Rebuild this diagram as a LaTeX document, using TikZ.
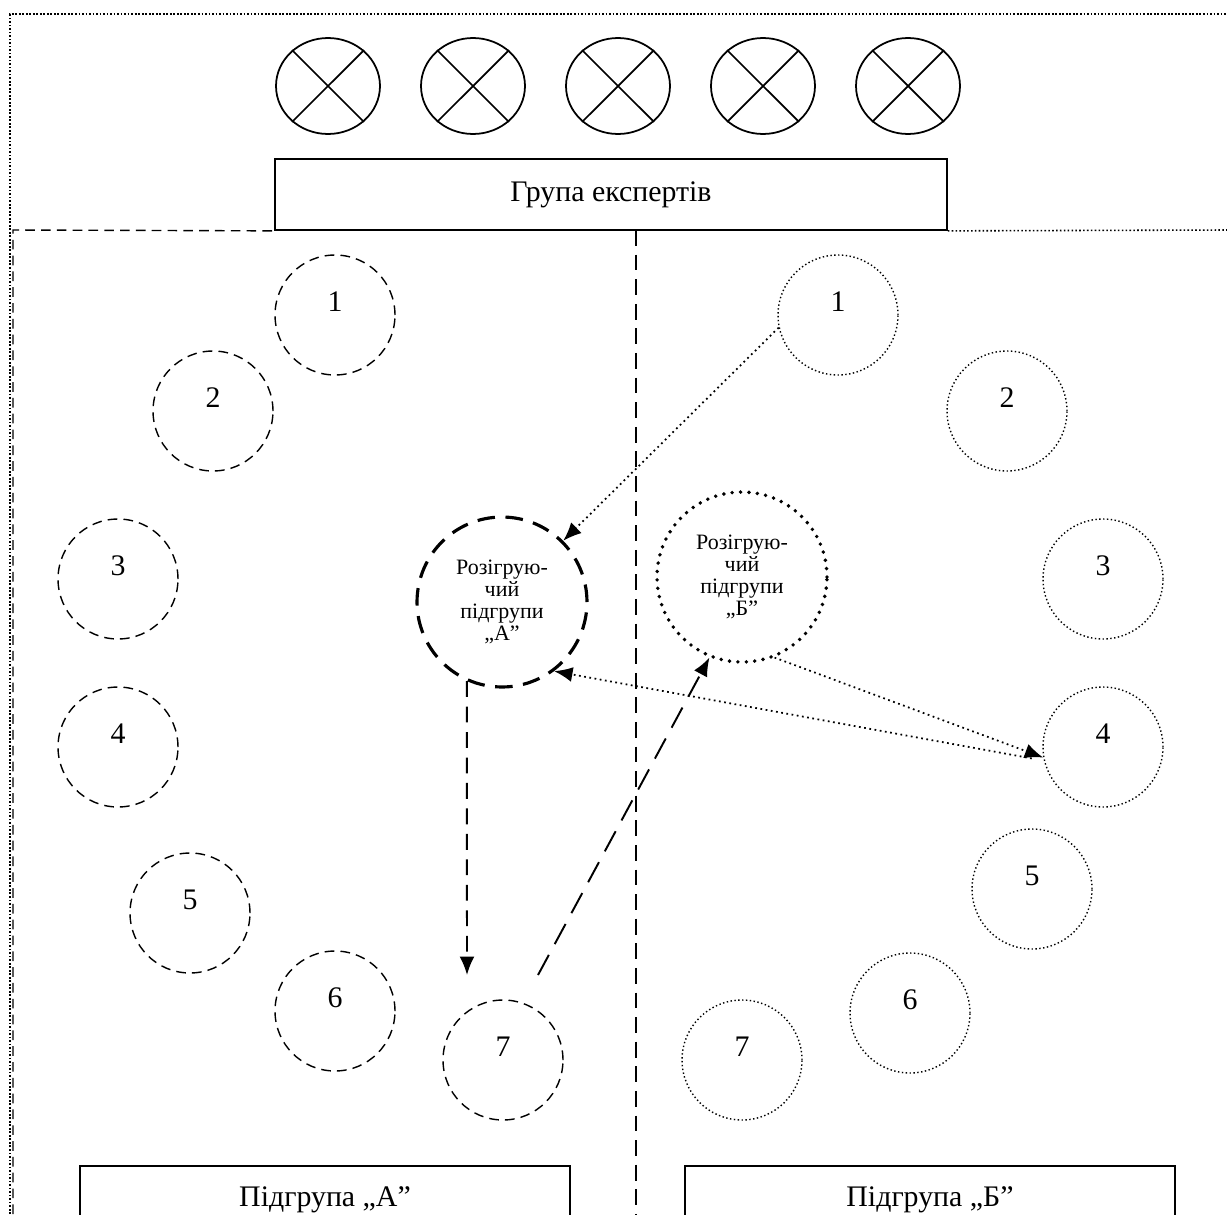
\documentclass[tikz,border=0pt]{standalone}
\usepackage{fontspec}
\setmainfont{Liberation Serif}
\usetikzlibrary{arrows.meta,shapes.geometric}

\begin{document}
\begin{tikzpicture}[
  x=0.02cm, y=-0.02cm,
  every node/.style={font=\fontsize{17}{20}\selectfont},
  expert/.style={ellipse, draw, line width=1pt, minimum width=2.08cm, minimum height=1.92cm, inner sep=0pt},
  titlebox/.style={rectangle, draw, line width=1pt, minimum width=13.44cm, minimum height=1.42cm},
  subbox/.style={rectangle, draw, line width=1pt, minimum width=9.8cm, anchor=north, inner sep=0pt, text height=0.82cm, text depth=1.2cm},
  memA/.style={circle, draw, line width=0.8pt, dash pattern=on 5.5pt off 3.5pt, minimum size=2.4cm, inner sep=0pt},
  memB/.style={circle, draw, line width=0.8pt, dash pattern=on 0.8pt off 1.4pt, minimum size=2.4cm, inner sep=0pt},
  num/.style={yshift=0.27cm},
  leadA/.style={circle, draw, line width=1.8pt, dash pattern=on 10pt off 6pt, minimum size=3.4cm, align=center, inner sep=0pt, font=\fontsize{12.5}{12.4}\selectfont},
  leadB/.style={circle, draw, line width=2.2pt, dash pattern=on 0pt off 4.8pt, line cap=round, minimum size=3.4cm, align=center, inner sep=0pt, font=\fontsize{12.5}{12.4}\selectfont},
  outer/.style={line width=1pt, dash pattern=on 1pt off 1pt},
  divdash/.style={line width=0.8pt, dash pattern=on 5.5pt off 3.5pt},
  divline/.style={line width=0.8pt, dash pattern=on 9pt off 5pt},
  divdot/.style={line width=0.9pt, dash pattern=on 0.9pt off 1.3pt},
  arrdot/.style={-{Latex[length=10.5pt,width=8.5pt]}, line width=1pt, dash pattern=on 1pt off 2pt},
  arrdashA/.style={-{Latex[length=10.5pt,width=8.5pt]}, line width=1.1pt, dash pattern=on 9pt off 5.5pt},
  arrdashB/.style={-{Latex[length=10.5pt,width=8.5pt]}, line width=1.1pt, dash pattern=on 13pt off 7pt}
]
\useasboundingbox (0,0) rectangle (1227,1214);

% Outer frame and dividers
\draw[outer] (10,1214) -- (10,14) -- (1227,14);
\node[titlebox] (experts) at (611,194.5) {Група експертів};
\draw[divdash] (13,1214) -- (13,230) -- (experts.south west);
\draw[divdot] (experts.south east) -- (1227,230);
\draw[divline] (636,230) -- (636,1214);

% Experts
\foreach \i in {0,...,4} {
  \node[expert] (e\i) at (328+145*\i, 86) {};
  \draw[line width=1pt] (e\i.45) -- (e\i.225) (e\i.135) -- (e\i.315);
}

% Subgroup A (left)
\foreach \n/\x/\y in {1/335/315, 2/213/411, 3/118/579, 4/118/747, 5/190/913, 6/335/1011, 7/503/1060}
  \node[memA, label={[num]center:\n}] (a\n) at (\x,\y) {};

% Subgroup B (right)
\foreach \n/\x/\y in {1/838/315, 2/1007/411, 3/1103/579, 4/1103/747, 5/1032/889, 6/910/1013, 7/742/1060}
  \node[memB, label={[num]center:\n}] (b\n) at (\x,\y) {};

% Leaders
\node[leadA] (rozA) at (502,602) {Розігрую-\\чий\\підгрупи\\„А”};
\node[leadB] (rozB) at (742,577) {Розігрую-\\чий\\підгрупи\\„Б”};

% Subgroup boxes
\node[subbox] (subA) at (325,1165) {Підгрупа „А”};
\node[subbox] (subB) at (930,1165) {Підгрупа „Б”};

% Arrows
\coordinate (tipA) at (467,975);
\coordinate (tailB) at (538,975);
\draw[arrdot] (b1.192) -- (rozA.45);
\draw[arrdot] (rozB.-68) -- (b4.190);
\draw[arrdot, shorten <=7pt] (b4.193) -- (rozA.-53);
\draw[arrdashA] (rozA.-114) -- (tipA);
\draw[arrdashB] (tailB) -- (rozB.-112);

\end{tikzpicture}
\end{document}
